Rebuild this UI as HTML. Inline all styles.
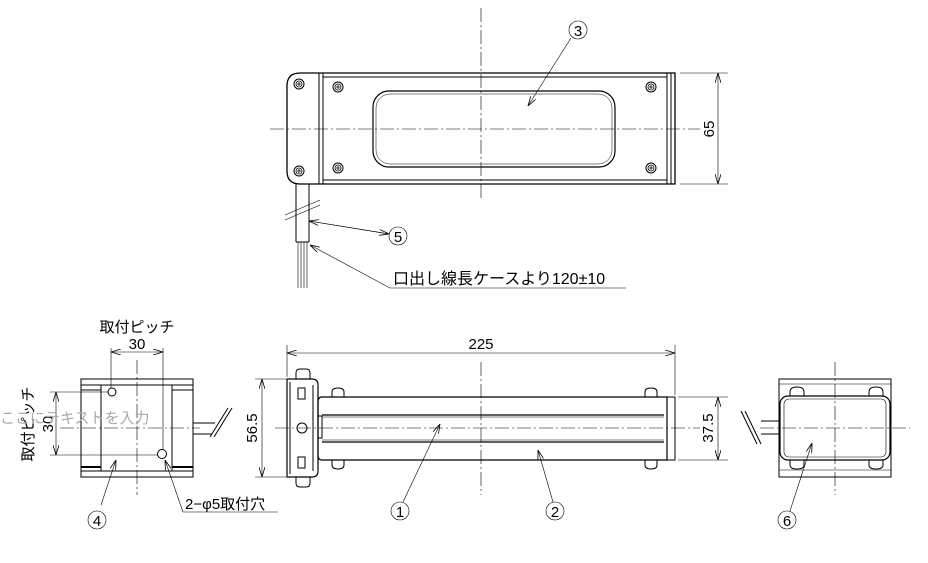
<!DOCTYPE html>
<html><head><meta charset="utf-8"><style>
html,body{margin:0;padding:0;background:#fff;}
svg{display:block;}
text{font-family:"Liberation Sans","Noto Sans CJK JP",sans-serif;fill:#000;}
</style></head><body>
<svg width="928" height="563" viewBox="0 0 928 563" xmlns="http://www.w3.org/2000/svg">
<defs>
<marker id="a" viewBox="0 0 10 6" refX="10" refY="3" markerWidth="10" markerHeight="6" orient="auto-start-reverse" markerUnits="userSpaceOnUse"><path d="M0,0 L10,3 L0,6" fill="none" stroke="#000" stroke-width="0.8"/></marker>
<g id="scr"><circle r="5" fill="none" stroke="#000" stroke-width="1"/><circle r="3" fill="none" stroke="#000" stroke-width="0.8"/><path d="M-2,0H2M0,-2V2" stroke="#000" stroke-width="0.8"/></g>
</defs>
<g stroke="#000" fill="none" stroke-width="1">
<!-- TOP VIEW -->
<path d="M300,73 H675 V184 H300 Q287,184 287,171 V86 Q287,73 300,73 Z" stroke-width="1.3"/>
<line x1="319" y1="73" x2="319" y2="184"/><line x1="323" y1="73" x2="323" y2="184"/>
<line x1="323" y1="77" x2="667" y2="77"/><line x1="323" y1="180" x2="667" y2="180"/>
<line x1="667" y1="73" x2="667" y2="184"/><line x1="671" y1="73" x2="671" y2="184"/>
<rect x="373" y="91" width="242" height="76" rx="16" stroke-width="1.2"/>
<rect x="376" y="94" width="236" height="70" rx="14" stroke-width="0.5"/>
</g>
<use href="#scr" x="299" y="84"/><use href="#scr" x="299" y="171"/>
<use href="#scr" x="338" y="87"/><use href="#scr" x="338" y="168"/>
<use href="#scr" x="651" y="87"/><use href="#scr" x="651" y="168"/>
<g stroke="#000" fill="none" stroke-width="0.6">
<line x1="270" y1="129" x2="700" y2="129" stroke-dasharray="14,3,2,3"/>
<line x1="481" y1="8" x2="481" y2="200" stroke-dasharray="14,3,2,3"/>
<line x1="680" y1="73" x2="728" y2="73"/><line x1="680" y1="184" x2="728" y2="184"/>
<line x1="718" y1="73" x2="718" y2="184" marker-start="url(#a)" marker-end="url(#a)"/>
<!-- cable -->
<line x1="296" y1="184" x2="296" y2="242" stroke-width="1"/><line x1="309" y1="184" x2="309" y2="242" stroke-width="1"/>
<line x1="296" y1="242" x2="309" y2="242" stroke-width="1"/>
<line x1="298" y1="242" x2="298" y2="288"/><line x1="301" y1="242" x2="301" y2="288"/><line x1="304" y1="242" x2="304" y2="288"/><line x1="307" y1="242" x2="307" y2="288"/>
<line x1="285" y1="215" x2="320" y2="200"/><line x1="285" y1="220" x2="320" y2="205"/>
<line x1="309" y1="221" x2="389" y2="234" marker-end="url(#a)" transform="rotate(0)"/>
<line x1="389" y1="234" x2="309" y2="221" marker-end="url(#a)"/>
<line x1="390" y1="288" x2="310" y2="245" marker-end="url(#a)"/>
<line x1="390" y1="288" x2="626" y2="288"/>
<line x1="571" y1="38" x2="528" y2="106" marker-end="url(#a)"/>
<circle cx="578" cy="30" r="9"/><circle cx="398" cy="236" r="9"/>
</g>
<text x="578" y="36" font-size="15" text-anchor="middle">3</text>
<text x="398" y="242" font-size="15" text-anchor="middle">5</text>
<text x="393" y="284" font-size="16">口出し線長ケースより120±10</text>
<text transform="translate(714,129) rotate(-90)" font-size="15" text-anchor="middle">65</text>

<!-- LEFT SIDE VIEW -->
<g stroke="#000" fill="none" stroke-width="1">
<rect x="81" y="379" width="112" height="98"/>
<line x1="81" y1="385" x2="193" y2="385"/><line x1="81" y1="471" x2="193" y2="471"/>
<line x1="101" y1="385" x2="101" y2="471"/><line x1="172" y1="385" x2="172" y2="471"/>
<line x1="81" y1="390" x2="101" y2="390"/><line x1="172" y1="390" x2="193" y2="390"/>
<line x1="81" y1="467" x2="101" y2="467" stroke-width="2"/><line x1="172" y1="467" x2="193" y2="467" stroke-width="2"/>
<circle cx="112" cy="392" r="4"/><circle cx="162" cy="454" r="4.5"/>
<line x1="193" y1="423" x2="215" y2="423"/><line x1="193" y1="434" x2="212" y2="434"/>
<line x1="210" y1="437" x2="228" y2="408"/><line x1="214" y1="437" x2="232" y2="408"/>
</g>
<g stroke="#000" fill="none" stroke-width="0.6">
<line x1="137" y1="360" x2="137" y2="495" stroke-dasharray="14,3,2,3"/>
<line x1="60" y1="428" x2="200" y2="428" stroke-dasharray="14,3,2,3"/>
<line x1="111" y1="348" x2="111" y2="388"/><line x1="163" y1="348" x2="163" y2="450"/>
<line x1="111" y1="352" x2="163" y2="352" marker-start="url(#a)" marker-end="url(#a)"/>
<line x1="50" y1="392" x2="108" y2="392"/><line x1="50" y1="455" x2="158" y2="455"/>
<line x1="56" y1="392" x2="56" y2="455" marker-start="url(#a)" marker-end="url(#a)"/>
<line x1="101" y1="505" x2="116" y2="460" marker-end="url(#a)"/>
<line x1="183" y1="512" x2="165" y2="460" marker-end="url(#a)"/>
<line x1="183" y1="512" x2="278" y2="512"/>
<circle cx="97" cy="520" r="9"/>
</g>
<text x="97" y="526" font-size="15" text-anchor="middle">4</text>
<text x="137" y="332" font-size="15" text-anchor="middle">取付ピッチ</text>
<text x="137" y="349" font-size="15" text-anchor="middle">30</text>
<text transform="translate(33,424) rotate(-90)" font-size="15" text-anchor="middle">取付ピッチ</text>
<text transform="translate(53,424) rotate(-90)" font-size="15" text-anchor="middle">30</text>
<text x="0" y="423" font-size="15" style="fill:#aaa">ここにテキストを入力</text>
<text x="185" y="509" font-size="15">2−φ5取付穴</text>

<!-- FRONT VIEW -->
<g stroke="#000" fill="none" stroke-width="1">
<path d="M287,379 H312 Q318,379 318,385 V471 Q318,477 312,477 H287 Z" stroke-width="1.2"/>
<line x1="290" y1="382" x2="290" y2="474"/><line x1="313" y1="385" x2="313" y2="471"/>
<path d="M296,373 Q296,369 300,369 H306 Q310,369 310,373 V379 H296 Z"/>
<path d="M296,477 H310 V483 Q310,487 306,487 H300 Q296,487 296,483 Z"/>
<rect x="298" y="388" width="7" height="11"/><rect x="298" y="457" width="7" height="11"/>
<circle cx="302" cy="428" r="5"/>
<rect x="318" y="416" width="4" height="22"/>
<path d="M322,397 H667 V460 H322 Q318,460 318,455 V402 Q318,397 322,397 Z" stroke-width="1.2"/>
<line x1="322" y1="415" x2="664" y2="415" stroke-width="1.2"/><line x1="322" y1="442" x2="664" y2="442" stroke-width="1.2"/>
<line x1="322" y1="417" x2="664" y2="417" stroke-width="0.5"/><line x1="322" y1="440" x2="664" y2="440" stroke-width="0.5"/>
<rect x="667" y="397" width="8" height="63"/>
<path d="M332,397 V392 Q332,388 338,388 Q344,388 344,392 V397"/>
<path d="M645,397 V392 Q645,388 651,388 Q657,388 657,392 V397"/>
<path d="M332,460 V465 Q332,469 338,469 Q344,469 344,465 V460"/>
<path d="M645,460 V465 Q645,469 651,469 Q657,469 657,465 V460"/>
</g>
<g stroke="#000" fill="none" stroke-width="0.6">
<line x1="481" y1="362" x2="481" y2="495" stroke-dasharray="14,3,2,3"/>
<line x1="275" y1="428" x2="700" y2="428" stroke-dasharray="14,3,2,3"/>
<line x1="287" y1="345" x2="287" y2="377"/><line x1="675" y1="345" x2="675" y2="395"/>
<line x1="287" y1="353" x2="675" y2="353" marker-start="url(#a)" marker-end="url(#a)"/>
<line x1="255" y1="379" x2="286" y2="379"/><line x1="255" y1="477" x2="286" y2="477"/>
<line x1="262" y1="379" x2="262" y2="477" marker-start="url(#a)" marker-end="url(#a)"/>
<line x1="678" y1="397" x2="728" y2="397"/><line x1="678" y1="460" x2="728" y2="460"/>
<line x1="718" y1="397" x2="718" y2="460" marker-start="url(#a)" marker-end="url(#a)"/>
<line x1="403" y1="502" x2="440" y2="424" marker-end="url(#a)"/>
<line x1="553" y1="502" x2="538" y2="450" marker-end="url(#a)"/>
<circle cx="400" cy="511" r="9"/><circle cx="555" cy="511" r="9"/>
</g>
<text x="400" y="517" font-size="15" text-anchor="middle">1</text>
<text x="555" y="517" font-size="15" text-anchor="middle">2</text>
<text x="481" y="349" font-size="15" text-anchor="middle">225</text>
<text transform="translate(257,428) rotate(-90)" font-size="15" text-anchor="middle">56.5</text>
<text transform="translate(713,428) rotate(-90)" font-size="15" text-anchor="middle">37.5</text>

<!-- RIGHT VIEW -->
<g stroke="#000" fill="none" stroke-width="1">
<rect x="779" y="379" width="112" height="98"/>
<line x1="779" y1="384" x2="891" y2="384" stroke-width="0.6"/><line x1="779" y1="470" x2="891" y2="470" stroke-width="0.6"/>
<rect x="780" y="396" width="110" height="64" rx="8" stroke-width="1.2"/>
<rect x="784" y="399" width="102" height="58" rx="5" stroke-width="0.6"/>
<path d="M790,396 V392 Q790,387 797,387 Q804,387 804,392 V396"/>
<path d="M869,396 V392 Q869,387 876,387 Q883,387 883,392 V396"/>
<path d="M790,460 V465 Q790,469 797,469 Q804,469 804,465 V460"/>
<path d="M869,460 V465 Q869,469 876,469 Q883,469 883,465 V460"/>
<line x1="761" y1="421" x2="779" y2="421"/><line x1="761" y1="434" x2="779" y2="434"/>
<line x1="741" y1="411" x2="757" y2="444"/><line x1="745" y1="411" x2="761" y2="444"/>
</g>
<g stroke="#000" fill="none" stroke-width="0.6">
<line x1="835" y1="362" x2="835" y2="495" stroke-dasharray="14,3,2,3"/>
<line x1="760" y1="428" x2="910" y2="428" stroke-dasharray="14,3,2,3"/>
<line x1="790" y1="511" x2="812" y2="443" marker-end="url(#a)"/>
<circle cx="787" cy="520" r="9"/>
</g>
<text x="787" y="526" font-size="15" text-anchor="middle">6</text>
</svg>
</body></html>
